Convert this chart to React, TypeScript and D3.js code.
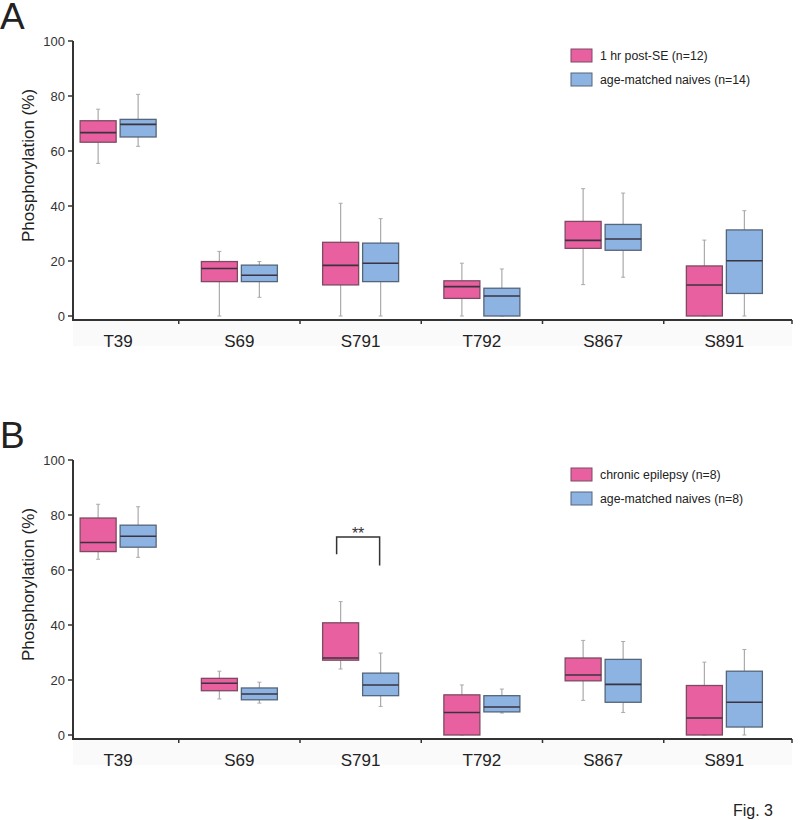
import React from "react";
import * as d3 from "d3";

const categories = ["T39", "S69", "S791", "T792", "S867", "S891"];
const yTicks = [0, 20, 40, 60, 80, 100];

// [whisker low, q1, median, q3, whisker high]
const postSE = [
  [55.5, 63.2, 66.7, 71.0, 75.2],
  [0, 12.5, 17.3, 19.8, 23.5],
  [0, 11.3, 18.4, 26.8, 41.0],
  [0, 6.4, 10.7, 12.8, 19.2],
  [11.4, 24.6, 27.5, 34.4, 46.3],
  [0, 0, 11.3, 18.2, 27.6],
];
const naivesA = [
  [61.7, 65.1, 69.7, 71.5, 80.6],
  [6.8, 12.5, 14.8, 18.5, 19.8],
  [0, 12.5, 19.2, 26.5, 35.4],
  [0, 0, 7.3, 10.1, 17.1],
  [14.1, 23.9, 28.0, 33.3, 44.7],
  [0, 8.2, 20.1, 31.3, 38.3],
];
const chronic = [
  [63.9, 66.7, 70.0, 78.9, 83.9],
  [13.1, 16.1, 18.8, 20.6, 23.2],
  [24.0, 27.2, 28.0, 40.8, 48.5],
  [0, 0, 8.2, 14.6, 18.2],
  [12.6, 19.7, 21.8, 28.0, 34.4],
  [0, 0, 6.2, 18.0, 26.5],
];
const naivesB = [
  [64.6, 68.3, 72.3, 76.3, 83.0],
  [11.6, 12.8, 14.9, 17.1, 19.2],
  [10.4, 14.3, 18.2, 22.5, 29.8],
  [8.0, 8.4, 10.2, 14.3, 16.7],
  [8.2, 11.9, 18.4, 27.5, 34.0],
  [0, 2.9, 11.9, 23.2, 31.1],
];

const legendA = ["1 hr post-SE (n=12)", "age-matched naives (n=14)"];
const legendB = ["chronic epilepsy (n=8)", "age-matched naives (n=8)"];

// significance bracket in panel B
const bracketB = { cat: "S791", top: 72, left: 65.7, right: 61.6, label: "**" };

const pink = "#E8609F";
const pinkStroke = "#7d4a62";
const blue = "#8DB3E2";
const blueStroke = "#55657a";
const axisColor = "#333";
const font = "Liberation Sans, Arial, sans-serif";

const x = d3.scaleBand().domain(categories).range([57.5, 785]);

function Box({ cx, d, y, fill, stroke }) {
  const [lo, q1, med, q3, hi] = d;
  const w = 36;
  const x0 = cx - w / 2;
  return (
    <g>
      <line x1={cx} x2={cx} y1={y(hi)} y2={y(q3)} stroke="#aaa" strokeWidth={1.2} />
      <line x1={cx} x2={cx} y1={y(q1)} y2={y(lo)} stroke="#aaa" strokeWidth={1.2} />
      <line x1={cx - 2} x2={cx + 2} y1={y(hi)} y2={y(hi)} stroke="#aaa" strokeWidth={1} />
      <line x1={cx - 2} x2={cx + 2} y1={y(lo)} y2={y(lo)} stroke="#aaa" strokeWidth={1} />
      <rect x={x0} y={y(q3)} width={w} height={Math.max(0.5, y(q1) - y(q3))} fill={fill} stroke={stroke} strokeWidth={1.3} />
      <line x1={x0} x2={x0 + w} y1={y(med)} y2={y(med)} stroke="#3b3340" strokeWidth={1.6} />
    </g>
  );
}

function Panel({ letter, top, seriesPink, seriesBlue, legend, bracket }) {
  const y = d3.scaleLinear().domain([0, 100]).range([top + 275, top]);
  const y0 = y(0);
  const axisY = y0 + 4;
  const bounds = categories.slice(1).map((c) => x(c));
  return (
    <g fontFamily={font} fill="#222">
      <text x={0} y={top - 12} fontSize={37}>{letter}</text>
      <rect x={73} y={axisY} width={719} height={26} fill="#fafafa" />
      {/* y axis */}
      <line x1={73} x2={73} y1={top} y2={axisY} stroke={axisColor} strokeWidth={2} />
      {yTicks.map((t) => (
        <g key={t}>
          <line x1={68} x2={73} y1={y(t)} y2={y(t)} stroke={axisColor} strokeWidth={1.5} />
          <text x={65} y={y(t) + 4.5} fontSize={13} textAnchor="end" fill="#333">{t}</text>
        </g>
      ))}
      <text
        transform={`translate(34,${(top + y0) / 2 - 13}) rotate(-90)`}
        fontSize={17}
        textAnchor="middle"
      >
        Phosphorylation (%)
      </text>
      {/* x axis */}
      <line x1={72} x2={792} y1={axisY} y2={axisY} stroke={axisColor} strokeWidth={2} />
      {[...bounds, 792].map((b, i) => (
        <line key={i} x1={b} x2={b} y1={axisY} y2={axisY + 4} stroke={axisColor} strokeWidth={1.5} />
      ))}
      {categories.map((c) => (
        <text key={c} x={x(c) + x.bandwidth() / 2} y={y0 + 31} fontSize={17} textAnchor="middle">{c}</text>
      ))}
      {/* boxes */}
      {categories.map((c, i) => {
        const cx = x(c) + x.bandwidth() / 2;
        return (
          <g key={c}>
            <Box cx={cx - 20} d={seriesPink[i]} y={y} fill={pink} stroke={pinkStroke} />
            <Box cx={cx + 20} d={seriesBlue[i]} y={y} fill={blue} stroke={blueStroke} />
          </g>
        );
      })}
      {/* legend */}
      <rect x={571} y={top + 8} width={21} height={13} fill={pink} stroke={pinkStroke} strokeWidth={1} />
      <rect x={571} y={top + 32} width={21} height={13} fill={blue} stroke={blueStroke} strokeWidth={1} />
      <text x={600} y={top + 19} fontSize={12.3} fill="#222">{legend[0]}</text>
      <text x={600} y={top + 43} fontSize={12.3} fill="#222">{legend[1]}</text>
      {bracket && (() => {
        const cx = x(bracket.cat) + x.bandwidth() / 2;
        const l = cx - 24;
        const r = cx + 19;
        return (
          <g>
            <path
              d={`M${l},${y(bracket.left)}V${y(bracket.top)}H${r}V${y(bracket.right)}`}
              fill="none"
              stroke="#333"
              strokeWidth={1.5}
            />
            <text x={(l + r) / 2} y={y(bracket.top) + 2} fontSize={16} textAnchor="middle" fill="#333">{bracket.label}</text>
          </g>
        );
      })()}
    </g>
  );
}

export default function App() {
  return (
    <svg width={800} height={820} style={{ position: "absolute", left: 0, top: 0, background: "#fff" }}>
      <rect width={800} height={820} fill="#fff" />
      <Panel letter="A" top={41} seriesPink={postSE} seriesBlue={naivesA} legend={legendA} />
      <Panel letter="B" top={460} seriesPink={chronic} seriesBlue={naivesB} legend={legendB} bracket={bracketB} />
      <text x={733} y={816} fontSize={16} fontFamily={font} fill="#222">Fig. 3</text>
    </svg>
  );
}
